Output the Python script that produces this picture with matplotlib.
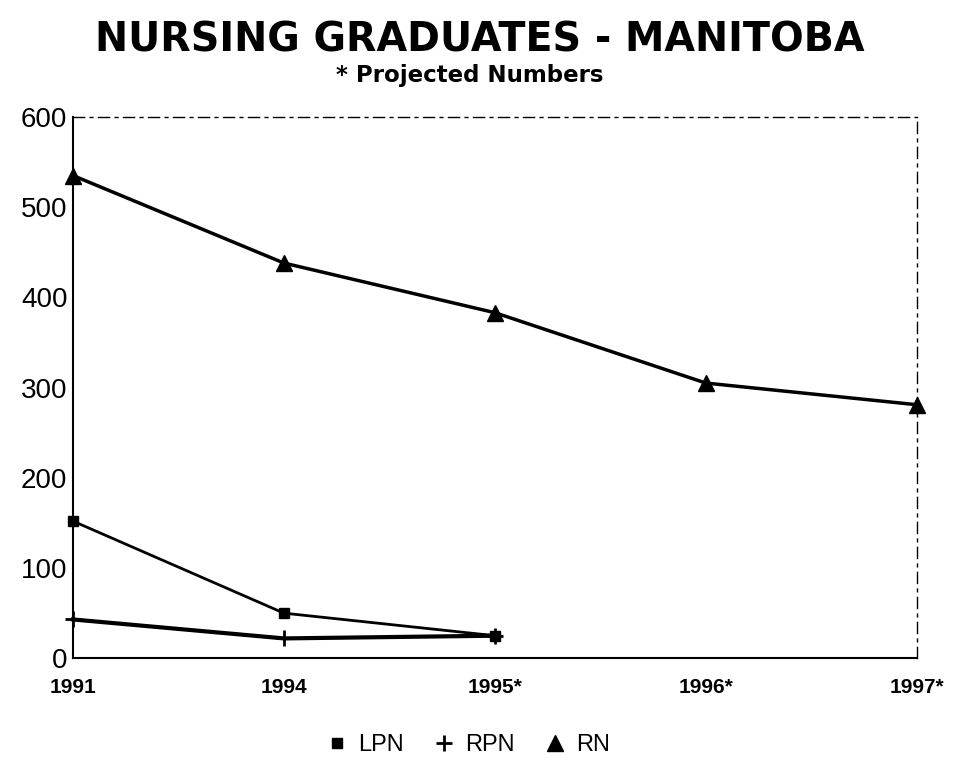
import matplotlib
matplotlib.use("Agg")
import matplotlib.pyplot as plt
import numpy as np

categories = ["1991", "1994", "1995*", "1996*", "1997*"]
rn = [535, 438, 383, 305, 281]
lpn = [152, 50, 25]
rpn = [43, 22, 25]

plt.rcParams['font.family'] = ['Liberation Sans', 'DejaVu Sans']
fig = plt.figure(figsize=(9.54, 7.69), dpi=100)
ax = fig.add_axes([0.0765, 0.144, 0.8845, 0.704])

x = np.arange(len(categories))
ax.plot(x[:len(lpn)], lpn, color='black', lw=2, marker='s', ms=7, label='LPN', clip_on=False)
ax.plot(x[:len(rpn)], rpn, color='black', lw=3, marker='+', ms=12, mew=2, label='RPN', clip_on=False)
ax.plot(x, rn, color='black', lw=2.5, marker='^', ms=11, label='RN', clip_on=False)

ax.set_xlim(0, len(categories) - 1)
ax.set_ylim(0, 600)
ax.set_xticks(x)
ax.set_xticklabels(categories, fontsize=15, fontweight='bold')
ax.set_yticks(range(0, 601, 100))
ax.tick_params(axis='y', labelsize=20, length=0, pad=4)
ax.tick_params(axis='x', length=0, pad=14)
for s in ['top', 'right']:
    ax.spines[s].set_linestyle((0, (8, 4, 2, 4)))
    ax.spines[s].set_linewidth(1)
ax.spines['left'].set_linewidth(1.5)
ax.spines['bottom'].set_linewidth(1.5)

fig.text(0.503, 0.947, "NURSING GRADUATES - MANITOBA", ha='center', va='center',
         fontsize=28.5, fontweight='bold', family=['DejaVu Sans'])
fig.text(0.492, 0.902, "* Projected Numbers", ha='center', va='center',
         fontsize=16.5, fontweight='bold', family=['DejaVu Sans'])

leg = fig.legend(loc='center', bbox_to_anchor=(0.49, 0.031), ncol=3, frameon=False,
                 fontsize=17, handlelength=1.0, handletextpad=0.4, columnspacing=1.2)
for h in leg.legend_handles:
    h.set_linestyle('none')

fig.savefig("out.png", dpi=100)
